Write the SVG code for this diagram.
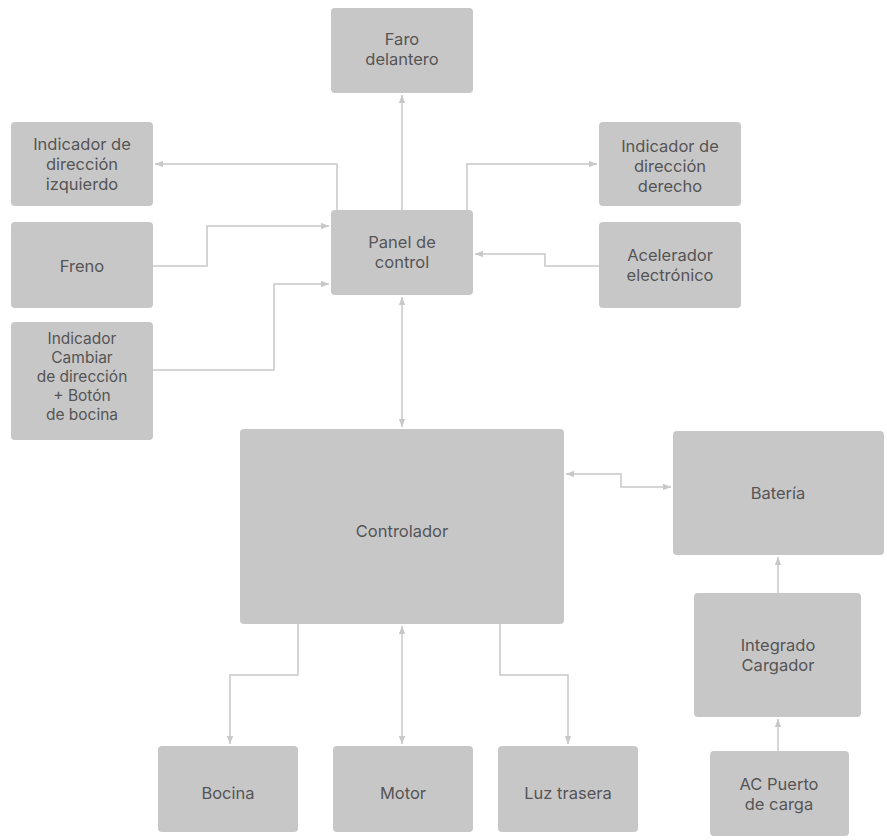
<svg xmlns="http://www.w3.org/2000/svg" width="887" height="840" viewBox="0 0 887 840">
<style>
.b{fill:#c8c7c8}
.t{font-family:"Inter","Liberation Sans",sans-serif;font-size:16.5px;fill:#555;text-anchor:middle}
.s{font-size:15.5px}
.c{fill:none;stroke:#c8c8c8;stroke-width:1.5}
</style>
<defs>
<marker id="a" viewBox="0 0 10 10" refX="10" refY="5" markerWidth="10" markerHeight="8" orient="auto-start-reverse" markerUnits="userSpaceOnUse"><path d="M0,1 L10,5 L0,9z" fill="#c8c8c8"/></marker>
</defs>
<rect width="887" height="840" fill="#fff"/>
<g id="connectors">
<path class="c" d="M402,210V95" marker-end="url(#a)"/>
<path class="c" d="M337,210V164H155" marker-end="url(#a)"/>
<path class="c" d="M467,210V164H597" marker-end="url(#a)"/>
<path class="c" d="M153,266H207V226H329" marker-end="url(#a)"/>
<path class="c" d="M153,370H274V284H329" marker-end="url(#a)"/>
<path class="c" d="M599,266H545V254H475" marker-end="url(#a)"/>
<path class="c" d="M402,297V427" marker-start="url(#a)" marker-end="url(#a)"/>
<path class="c" d="M566,474H621V487H671" marker-start="url(#a)" marker-end="url(#a)"/>
<path class="c" d="M778,593V557" marker-end="url(#a)"/>
<path class="c" d="M778,751V719" marker-end="url(#a)"/>
<path class="c" d="M298,624V675H230V744" marker-end="url(#a)"/>
<path class="c" d="M402,626V744" marker-start="url(#a)" marker-end="url(#a)"/>
<path class="c" d="M500,624V675H568V744" marker-end="url(#a)"/>
</g>
<g id="faro"><rect class="b" x="331" y="8" width="142" height="85" rx="4"/><text class="t" x="402" y="45">Faro</text><text class="t" x="402" y="65">delantero</text></g>
<g id="izq"><rect class="b" x="11" y="122" width="142" height="84" rx="4"/><text class="t" x="82" y="150">Indicador de</text><text class="t" x="82" y="170">dirección</text><text class="t" x="82" y="190">izquierdo</text></g>
<g id="der"><rect class="b" x="599" y="122" width="142" height="84" rx="4"/><text class="t" x="670" y="152">Indicador de</text><text class="t" x="670" y="172">dirección</text><text class="t" x="670" y="192">derecho</text></g>
<g id="panel"><rect class="b" x="331" y="210" width="142" height="85" rx="4"/><text class="t" x="402" y="248">Panel de</text><text class="t" x="402" y="268">control</text></g>
<g id="freno"><rect class="b" x="11" y="222" width="142" height="86" rx="4"/><text class="t" x="82" y="272">Freno</text></g>
<g id="acel"><rect class="b" x="599" y="222" width="142" height="86" rx="4"/><text class="t" x="670" y="261">Acelerador</text><text class="t" x="670" y="281">electrónico</text></g>
<g id="cambiar"><rect class="b" x="11" y="322" width="142" height="118" rx="4"/><text class="t s" x="82" y="344">Indicador</text><text class="t s" x="82" y="363">Cambiar</text><text class="t s" x="82" y="382">de dirección</text><text class="t s" x="82" y="401">+ Botón</text><text class="t s" x="82" y="420">de bocina</text></g>
<g id="controlador"><rect class="b" x="240" y="429" width="324" height="195" rx="4"/><text class="t" x="402" y="537">Controlador</text></g>
<g id="bateria"><rect class="b" x="673" y="431" width="211" height="124" rx="4"/><text class="t" x="778" y="499">Batería</text></g>
<g id="integrado"><rect class="b" x="694" y="593" width="167" height="124" rx="4"/><text class="t" x="778" y="651">Integrado</text><text class="t" x="778" y="671">Cargador</text></g>
<g id="ac"><rect class="b" x="710" y="751" width="139" height="85" rx="4"/><text class="t" x="779" y="790">AC Puerto</text><text class="t" x="779" y="810">de carga</text></g>
<g id="bocina"><rect class="b" x="158" y="746" width="140" height="86" rx="4"/><text class="t" x="228" y="799">Bocina</text></g>
<g id="motor"><rect class="b" x="333" y="746" width="140" height="86" rx="4"/><text class="t" x="403" y="799">Motor</text></g>
<g id="luz"><rect class="b" x="498" y="746" width="140" height="86" rx="4"/><text class="t" x="568" y="799">Luz trasera</text></g>
</svg>
